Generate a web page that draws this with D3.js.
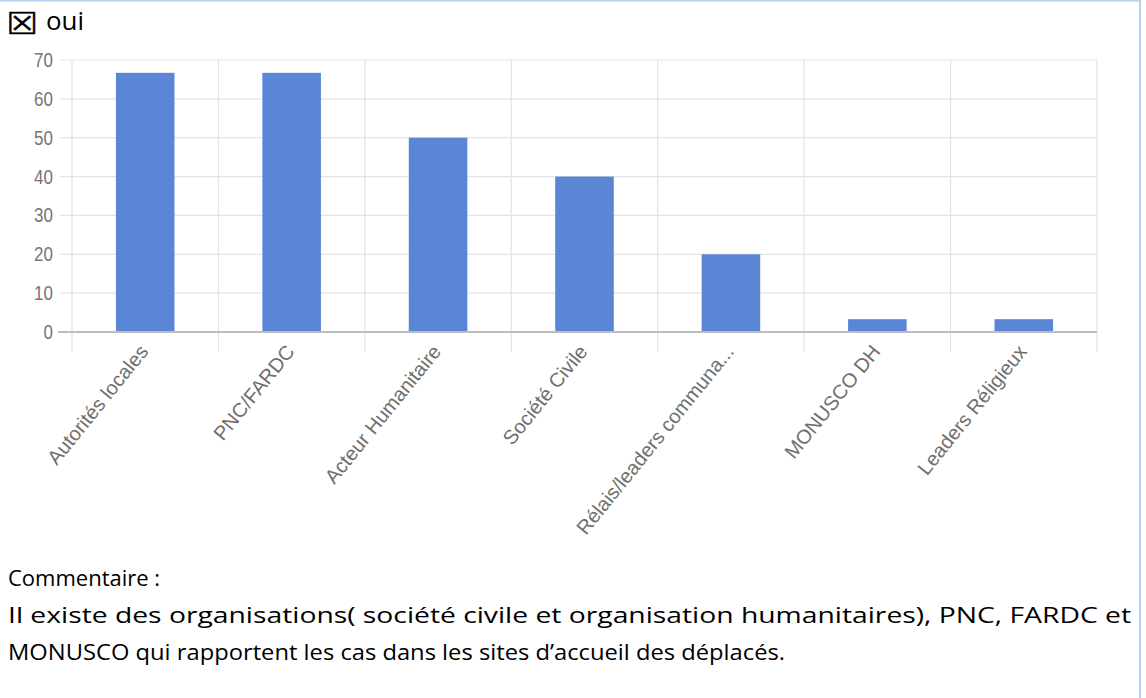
<!DOCTYPE html>
<html lang="fr">
<head>
<meta charset="utf-8">
<title>Chart</title>
<script src="https://cdn.jsdelivr.net/npm/d3@7"></script>
<style>
  body { margin: 0; background: #fff; }
</style>
</head>
<body>
<script type="text/javascript">

var width = 1146;
var height = 698;

// data
var categories = ["Autorités locales", "PNC/FARDC", "Acteur Humanitaire", "Société Civile",
                  "Rélais/leaders communa...", "MONUSCO DH", "Leaders Réligieux"];
var values = [66.7, 66.7, 50, 40, 20, 3.3, 3.3];
var yTicks = [0, 10, 20, 30, 40, 50, 60, 70];
var commentLines = ["Commentaire :",
  "Il existe des organisations( société civile et organisation humanitaires), PNC, FARDC et",
  "MONUSCO qui rapportent les cas dans les sites d\u2019accueil des déplacés."];

var plot = {left: 72, right: 1097, top: 60, bottom: 332};

var svg = d3.select("body").append("svg")
            .attr("width", width)
            .attr("height", height);

// page frame (light blue border)
svg.append("line").attr("x1", 0).attr("x2", 1140).attr("y1", 0.5).attr("y2", 0.5)
   .attr("stroke", "#b7d2f0").attr("stroke-width", 2);
svg.append("line").attr("x1", 1140).attr("x2", 1140).attr("y1", 0).attr("y2", height)
   .attr("stroke", "#b7d2f0").attr("stroke-width", 2);

// checkbox + "oui"
svg.append("text")
   .attr("transform", "translate(6,34) scale(1.18,1)")
   .attr("font-family", "DejaVu Sans")
   .attr("font-size", 30)
   .attr("fill", "#000")
   .attr("stroke", "#000")
   .attr("stroke-width", 0.3)
   .text("\u2612");
svg.append("text")
   .attr("x", 46).attr("y", 30)
   .attr("font-family", "Open Sans")
   .attr("font-size", 26)
   .attr("fill", "#000")
   .attr("textLength", 38)
   .attr("lengthAdjust", "spacingAndGlyphs")
   .text("oui");

var x = d3.scaleBand().domain(categories).range([plot.left, plot.right]).paddingInner(0).paddingOuter(0);
var y = d3.scaleLinear().domain([0, 70]).range([plot.bottom, plot.top]);
var barW = x.bandwidth() * 0.4;

// horizontal gridlines
svg.append("g").selectAll("line")
   .data(yTicks.filter(function(d) { return d > 0; }))
   .enter().append("line")
   .attr("x1", plot.left - 12).attr("x2", plot.right)
   .attr("y1", function(d) { return y(d); })
   .attr("y2", function(d) { return y(d); })
   .attr("stroke", "#e3e3e3").attr("stroke-width", 1.2);

// vertical gridlines at category boundaries
var bounds = categories.map(function(c) { return x(c); }).concat([plot.right]);
svg.append("g").selectAll("line")
   .data(bounds)
   .enter().append("line")
   .attr("x1", function(d) { return d; }).attr("x2", function(d) { return d; })
   .attr("y1", plot.top).attr("y2", plot.bottom + 20)
   .attr("stroke", "#e3e3e3").attr("stroke-width", 1.2);

// y tick labels
svg.append("g").selectAll("text")
   .data(yTicks)
   .enter().append("text")
   .attr("transform", function(d) {
     return "translate(53," + (y(d) + 7) + ") scale(1,1.15)";
   })
   .attr("text-anchor", "end")
   .attr("font-family", "Liberation Sans, Arial, sans-serif")
   .attr("font-size", 17)
   .attr("fill", "#757575")
   .text(function(d) { return d; });

// bars
svg.append("g").selectAll("rect")
   .data(values)
   .enter().append("rect")
   .attr("x", function(d, i) { return x(categories[i]) + (x.bandwidth() - barW) / 2; })
   .attr("y", function(d) { return y(d); })
   .attr("width", barW)
   .attr("height", function(d) { return y(0) - y(d); })
   .attr("fill", "#5b86d6");

// baseline
svg.append("line")
   .attr("x1", plot.left - 14).attr("x2", plot.right)
   .attr("y1", y(0)).attr("y2", y(0))
   .attr("stroke", "#bdbdbd").attr("stroke-width", 2);

// x labels rotated
svg.append("g").selectAll("text")
   .data(categories)
   .enter().append("text")
   .attr("transform", function(d) {
     var cx = x(d) + x.bandwidth() / 2 + 4;
     return "translate(" + cx + "," + (plot.bottom + 20) + ") rotate(-51)";
   })
   .attr("text-anchor", "end")
   .attr("font-family", "Liberation Sans, Arial, sans-serif")
   .attr("font-size", 20)
   .attr("fill", "#6f6f6f")
   .text(function(d) { return d; });

// commentary
var lineY = [586, 623, 660];
var lineLen = [null, 1123, 777];
commentLines.forEach(function(t, i) {
  var el = svg.append("text")
     .attr("x", 8).attr("y", lineY[i])
     .attr("font-family", "Open Sans")
     .attr("font-size", 22)
     .attr("fill", "#000")
     .text(t);
  if (lineLen[i]) el.attr("textLength", lineLen[i]).attr("lengthAdjust", "spacingAndGlyphs");
});

</script>
</body>
</html>
